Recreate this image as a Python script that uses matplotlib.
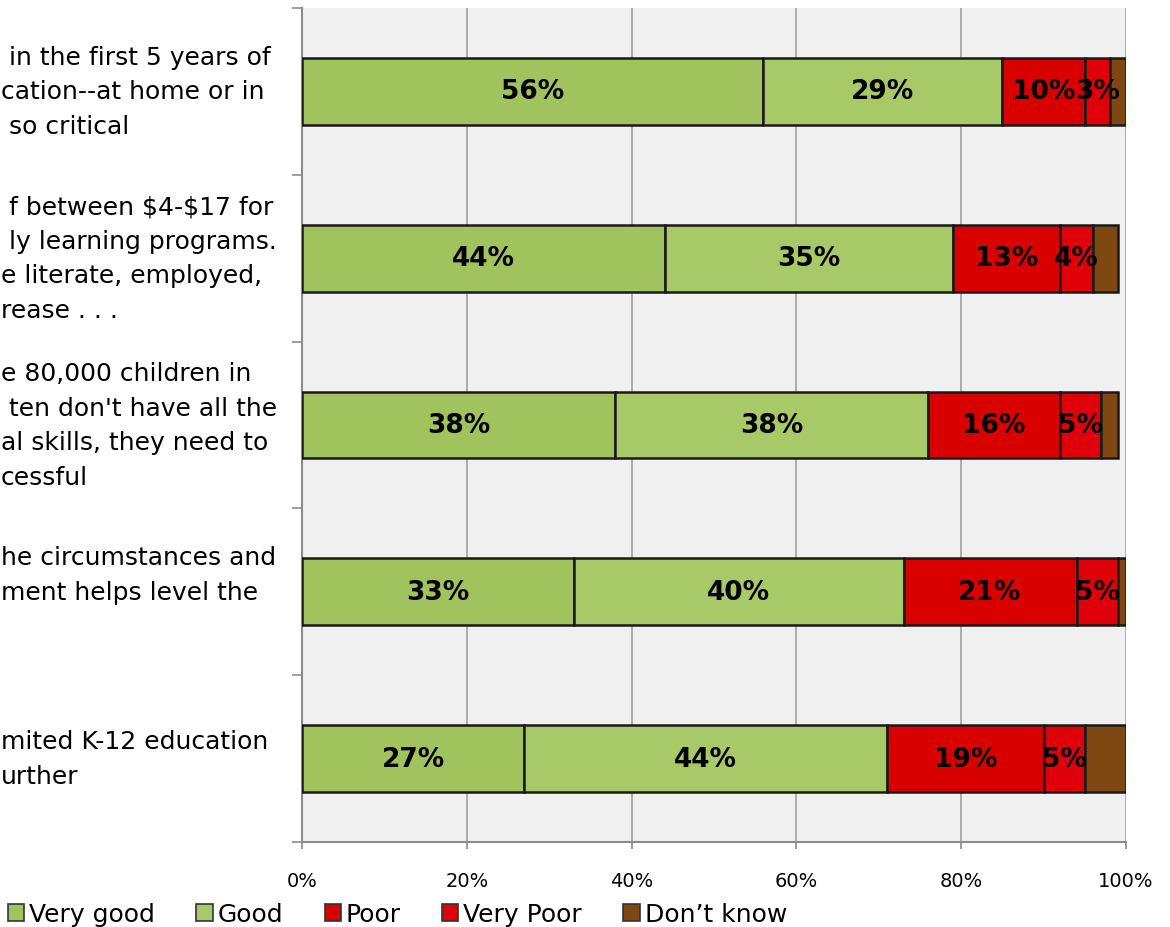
import matplotlib
matplotlib.use("Agg")
import matplotlib.pyplot as plt
from matplotlib.patches import Patch
from matplotlib.transforms import blended_transform_factory

plt.rcParams['font.family'] = ['DejaVu Sans']

# ==============================================================================
# DADOS (linhas de cima para baixo)
# ==============================================================================
rotulos = [
    [" in the first 5 years of", "cation--at home or in", " so critical"],
    [" f between \\$4-\\$17 for", " ly learning programs.", "e literate, employed,", "rease . . ."],
    ["e 80,000 children in", " ten don't have all the", "al skills, they need to", "cessful"],
    ["he circumstances and", "ment helps level the", ""],
    ["mited K-12 education", "urther"],
]

series = ["Very good", "Good", "Poor", "Very Poor", "Don\u2019t know"]
very_good = [56, 44, 38, 33, 27]
good = [29, 35, 38, 40, 44]
poor = [10, 13, 16, 21, 19]
very_poor = [3, 4, 5, 5, 5]
dont_know = [2, 3, 2, 1, 5]

cores = ["#a0c35d", "#a8c968", "#d90000", "#e0000a", "#7f4812"]
mostrar_rotulo = [True, True, True, True, False]

x_ticks = [0, 20, 40, 60, 80, 100]


def gerar_grafico():
    fig = plt.figure(figsize=(11.70, 9.28), dpi=100)
    ax = fig.add_axes([302 / 1170, 85 / 928, 824 / 1170, 834 / 928])

    valores = [very_good, good, poor, very_poor, dont_know]
    n = len(rotulos)
    y = list(range(n - 1, -1, -1))  # primeira linha em cima
    esquerda = [0] * n

    for nome, vals, cor, rot in zip(series, valores, cores, mostrar_rotulo):
        barras = ax.barh(y, vals, left=esquerda, height=0.40, color=cor,
                         edgecolor="#1a1a1a", linewidth=1.8, zorder=3, label=nome)
        if rot:
            for b, v in zip(barras, vals):
                ax.text(b.get_x() + b.get_width() / 2, b.get_y() + b.get_height() / 2,
                        f"{v}%", ha="center", va="center", fontsize=19,
                        fontweight="bold", color="black", zorder=5)
        esquerda = [a + v for a, v in zip(esquerda, vals)]

    # Eixos e grade
    ax.set_xlim(0, 100)
    ax.set_ylim(-0.5, n - 0.5)
    ax.set_facecolor("#f0f0f0")
    ax.set_xticks(x_ticks)
    ax.set_xticklabels([f"{t}%" for t in x_ticks], fontsize=14)
    ax.set_yticks([i - 0.5 for i in range(n + 1)])
    ax.set_yticklabels([])
    ax.tick_params(axis="x", length=5, width=1.2, color="#8c8c8c", pad=16)
    ax.tick_params(axis="y", length=7, width=1.2, color="#8c8c8c")
    ax.grid(axis="x", color="#a0a0a0", linewidth=1.2, zorder=0)
    ax.set_axisbelow(True)
    for lado in ["top", "right"]:
        ax.spines[lado].set_visible(False)
    for lado in ["left", "bottom"]:
        ax.spines[lado].set_color("#8c8c8c")
        ax.spines[lado].set_linewidth(1.5)

    # Rótulos das categorias (cortados pela borda esquerda, como na referência)
    trans = blended_transform_factory(fig.transFigure, ax.transData)
    for yy, linhas in zip(y, rotulos):
        ax.text(1 / 1170, yy, "\n".join(linhas), transform=trans, ha="left",
                va="center", fontsize=18, linespacing=1.55, clip_on=False)

    # Legenda
    handles = [Patch(facecolor=c, edgecolor="#333333", linewidth=1.2) for c in cores]
    fig.legend(handles, series, loc="center left", bbox_to_anchor=(8 / 1170, 1 - 915 / 928),
               ncol=5, frameon=False, fontsize=18, handlelength=0.65, handleheight=0.65,
               handletextpad=0.2, columnspacing=1.65, borderpad=0, borderaxespad=0)

    fig.savefig("out.png", dpi=100)
    plt.close(fig)


if __name__ == '__main__':
    gerar_grafico()
